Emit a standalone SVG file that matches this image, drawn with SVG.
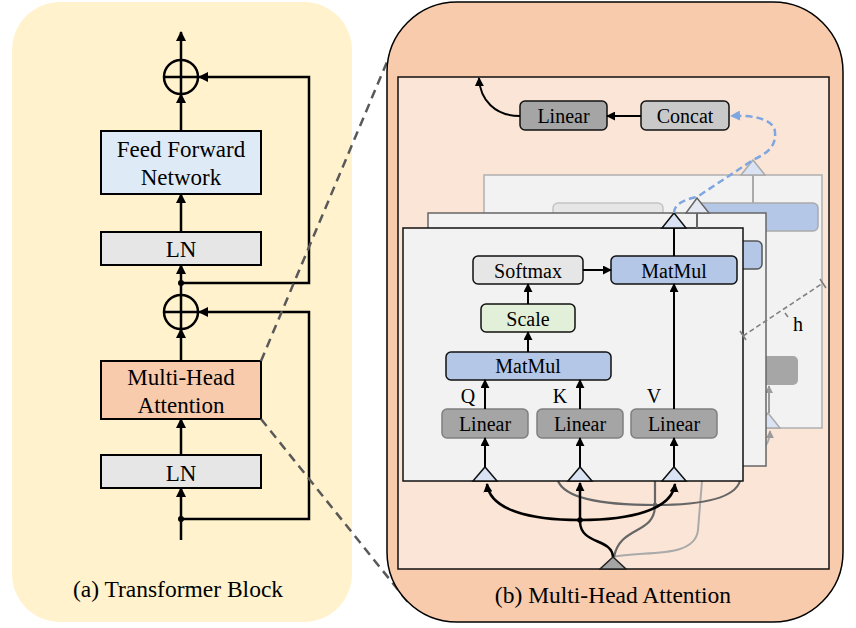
<svg xmlns="http://www.w3.org/2000/svg" width="856" height="628" viewBox="0 0 856 628">
<defs>
<style>
.t{font-family:"Liberation Serif","Times New Roman",serif;text-anchor:middle;fill:#000}
.lt{font-size:23px}
.rt{font-size:20px}
.cap{font-size:23.5px}
.bx{stroke:#000;stroke-width:2}
.rb{stroke:#111;stroke-width:1.5}
.ln{fill:none;stroke:#000;stroke-width:2.5}
.ln2{fill:none;stroke:#000;stroke-width:2}
</style>
<marker id="arr" viewBox="0 0 10 10" refX="9" refY="5" markerWidth="10" markerHeight="10" markerUnits="userSpaceOnUse" orient="auto"><path d="M0,0 L10,5 L0,10 z" fill="#000"/></marker>
<marker id="arrs" viewBox="0 0 10 10" refX="9" refY="5" markerWidth="9" markerHeight="9" markerUnits="userSpaceOnUse" orient="auto"><path d="M0,0 L10,5 L0,10 z" fill="#000"/></marker>
<marker id="arrg" viewBox="0 0 10 10" refX="9" refY="5" markerWidth="8" markerHeight="8" markerUnits="userSpaceOnUse" orient="auto"><path d="M0,0 L10,5 L0,10 z" fill="#9a9a9a"/></marker>
<marker id="arrb" viewBox="0 0 10 10" refX="9" refY="5" markerWidth="10" markerHeight="10" markerUnits="userSpaceOnUse" orient="auto"><path d="M0,0 L10,5 L0,10 z" fill="#7EA6E0"/></marker>
</defs>

<!-- (a) Transformer block panel -->
<g id="panel-a">
<rect x="12" y="2" width="340" height="620" rx="48" fill="#FFF2CC"/>
<text class="t cap" x="178" y="597">(a) Transformer Block</text>
</g>

<g id="ffn">
<rect class="bx" x="101" y="131" width="160" height="63" fill="#DEEBF7"/>
<text class="t lt" x="181" y="157">Feed Forward</text>
<text class="t lt" x="181" y="185">Network</text>
</g>
<g id="ln-top">
<rect class="bx" x="101" y="232" width="160" height="33" fill="#E6E6E6"/>
<text class="t lt" x="181" y="257">LN</text>
</g>
<g id="mha">
<rect class="bx" x="101" y="361" width="160" height="58" fill="#F8CBAD"/>
<text class="t lt" x="181" y="385">Multi-Head</text>
<text class="t lt" x="181" y="413">Attention</text>
</g>
<g id="ln-bottom">
<rect class="bx" x="101" y="455" width="160" height="33" fill="#E6E6E6"/>
<text class="t lt" x="181" y="481">LN</text>
</g>
<g id="add-top">
<circle cx="181" cy="77" r="17" fill="none" stroke="#000" stroke-width="2.5"/>
<path d="M164 77 H198 M181 60 V94" stroke="#000" stroke-width="2.5"/>
</g>
<g id="add-bottom">
<circle cx="181" cy="312" r="17" fill="none" stroke="#000" stroke-width="2.5"/>
<path d="M164 312 H198 M181 295 V329" stroke="#000" stroke-width="2.5"/>
</g>

<g id="connectors-a">
<path class="ln" d="M181 60 V32" marker-end="url(#arr)"/>
<path class="ln" d="M181 131 V94" marker-end="url(#arr)"/>
<path class="ln" d="M181 232 V194" marker-end="url(#arr)"/>
<path class="ln" d="M181 295 V265" marker-end="url(#arr)"/>
<path class="ln" d="M181 283 H309 V77 H199" marker-end="url(#arr)"/>
<path class="ln" d="M181 361 V329" marker-end="url(#arr)"/>
<path class="ln" d="M181 455 V419" marker-end="url(#arr)"/>
<path class="ln" d="M181 540 V488" marker-end="url(#arr)"/>
<path class="ln" d="M181 519 H309 V312 H199" marker-end="url(#arr)"/>
<circle cx="181" cy="283" r="3" fill="#000"/>
<circle cx="181" cy="519" r="3" fill="#000"/>
</g>

<g id="zoom-lines">
<path d="M261 361 L392 50 M261 419 L411 606" stroke="#595959" stroke-width="2.5" stroke-dasharray="9,6" fill="none"/>
</g>

<!-- (b) Multi-Head Attention panel -->
<g id="panel-b">
<rect x="387" y="2" width="456" height="620" rx="70" fill="#F8CBAD" stroke="#000" stroke-width="1.5"/>
<rect x="398" y="77" width="431" height="492" fill="#FBE5D6" stroke="#111" stroke-width="1.5"/>
<text class="t cap" x="613" y="603">(b) Multi-Head Attention</text>
</g>

<g id="connectors-back">
<path d="M613 557 C640 550 695 560 698 530 L702 481 C704 455 770 470 770 431" fill="none" stroke="#AAAAAA" stroke-width="2" marker-end="url(#arrg)"/>
</g>

<g id="head-3">
<rect x="484" y="175" width="338" height="253" fill="#F2F2F2" stroke="#B0B0B0" stroke-width="1.5"/>
<polygon points="741,175 765,175 753,160" fill="#DAE3F3" stroke="#AAAAAA" stroke-width="1.5"/>
<path d="M753 175 V203" stroke="#AAAAAA" stroke-width="2"/>
<rect x="553" y="203" width="110" height="28" rx="5" fill="#E6E6E6" stroke="#C4C4C4" stroke-width="1.5"/>
<rect x="692" y="203" width="126" height="28" rx="5" fill="#B4C7E7" stroke="#AAAAAA" stroke-width="1.5"/>
<rect x="712" y="356" width="86" height="29" rx="5" fill="#A6A6A6"/>
<polygon points="756,428 780,428 768,413" fill="#DAE3F3" stroke="#AAAAAA" stroke-width="1.5"/>
<path d="M769 413 V386" fill="none" stroke="#9a9a9a" stroke-width="2" marker-end="url(#arrg)"/>
</g>

<g id="connectors-mid">
<path d="M558 481 C565 498 600 505 655 505 C705 505 735 497 740 481" fill="none" stroke="#666666" stroke-width="2.2"/>
<path d="M655 481 V505 C655 535 620 525 614 557" fill="none" stroke="#666666" stroke-width="2.2"/>
<circle cx="655" cy="505" r="2.3" fill="#666666"/>
</g>

<g id="head-2">
<rect x="428" y="213" width="338" height="253" fill="#F2F2F2" stroke="#666666" stroke-width="1.5"/>
<polygon points="686,213 709,213 697,198" fill="#E3E8F2" stroke="#666666" stroke-width="1.5"/>
<rect x="636" y="241" width="126" height="28" rx="5" fill="#B4C7E7" stroke="#555555" stroke-width="1.5"/>
</g>

<g id="head-1">
<rect x="403" y="228" width="340" height="253" fill="#F2F2F2" stroke="#111" stroke-width="1.5"/>
<polygon points="662,228 686,228 674,213" fill="#DAE3F3" stroke="#111" stroke-width="1.5"/>
</g>
<g id="softmax">
<rect class="rb" x="473" y="256" width="110" height="28" rx="5" fill="#E7E6E6"/>
<text class="t rt" x="528" y="278">Softmax</text>
</g>
<g id="matmul-top">
<rect class="rb" x="611" y="256" width="126" height="28" rx="5" fill="#B4C7E7"/>
<text class="t rt" x="674" y="278">MatMul</text>
</g>
<g id="scale">
<rect class="rb" x="481" y="304" width="94" height="28" rx="5" fill="#E2F0D9"/>
<text class="t rt" x="528" y="326">Scale</text>
</g>
<g id="matmul-bottom">
<rect class="rb" x="446" y="352" width="165" height="28" rx="5" fill="#B4C7E7"/>
<text class="t rt" x="528" y="373">MatMul</text>
</g>
<g id="linear-q">
<rect x="442" y="409" width="86" height="29" rx="5" fill="#A5A5A5" stroke="#7F7F7F" stroke-width="1.5"/>
<text class="t rt" x="485" y="431">Linear</text>
</g>
<g id="linear-k">
<rect x="537" y="409" width="86" height="29" rx="5" fill="#A5A5A5" stroke="#7F7F7F" stroke-width="1.5"/>
<text class="t rt" x="580" y="431">Linear</text>
</g>
<g id="linear-v">
<rect x="631" y="409" width="86" height="29" rx="5" fill="#A5A5A5" stroke="#7F7F7F" stroke-width="1.5"/>
<text class="t rt" x="674" y="431">Linear</text>
</g>
<g id="labels-qkv">
<text class="t rt" x="468" y="403">Q</text>
<text class="t rt" x="560" y="403">K</text>
<text class="t rt" x="654" y="403">V</text>
</g>
<g id="inputs">
<polygon points="473,481 497,481 485,467" fill="#DAE3F3" stroke="#111" stroke-width="1.5"/>
<polygon points="568,481 592,481 580,467" fill="#DAE3F3" stroke="#111" stroke-width="1.5"/>
<polygon points="662,481 686,481 674,467" fill="#DAE3F3" stroke="#111" stroke-width="1.5"/>
</g>

<g id="linear-out">
<rect x="520" y="101" width="87" height="29" rx="5" fill="#A5A5A5" stroke="#111" stroke-width="1.5"/>
<text class="t rt" x="563.5" y="123">Linear</text>
</g>
<g id="concat">
<rect x="641" y="101" width="88" height="29" rx="5" fill="#C9C9C9" stroke="#111" stroke-width="1.5"/>
<text class="t rt" x="685" y="123">Concat</text>
</g>

<g id="connectors-b">
<path class="ln2" d="M674 228 V256"/>
<path d="M697 213 V228" stroke="#666666" stroke-width="2"/>
<path class="ln2" d="M583 270 H611" marker-end="url(#arrs)"/>
<path class="ln2" d="M528 304 V284" marker-end="url(#arrs)"/>
<path class="ln2" d="M528 352 V332" marker-end="url(#arrs)"/>
<path class="ln2" d="M485 409 V380" marker-end="url(#arrs)"/>
<path class="ln2" d="M580 409 V380" marker-end="url(#arrs)"/>
<path class="ln2" d="M674 409 V284" marker-end="url(#arrs)"/>
<path class="ln2" d="M485 467 V438" marker-end="url(#arrs)"/>
<path class="ln2" d="M580 467 V438" marker-end="url(#arrs)"/>
<path class="ln2" d="M674 467 V438" marker-end="url(#arrs)"/>
<path class="ln" d="M613 557 C612 538 581 545 580 522 L580 483" marker-end="url(#arrs)"/>
<path class="ln" d="M580 520 C530 520 490 510 487 484" marker-end="url(#arrs)"/>
<path class="ln" d="M580 520 C630 520 672 510 675 484" marker-end="url(#arrs)"/>
<circle cx="580" cy="520" r="2.8" fill="#000"/>
<path class="ln2" d="M641 116 H607" marker-end="url(#arrs)"/>
<path class="ln2" d="M520 116 C495 116 480 100 479 78" marker-end="url(#arrs)"/>
<path d="M674 213 C674 205 682 200 697 197 L753 160 C770 152 776 145 775 132 C774 118 750 115 731 116" fill="none" stroke="#7EA6E0" stroke-width="2.5" stroke-dasharray="7,4" marker-end="url(#arrb)"/>
<polygon points="600,569 626,569 613,557" fill="#A5A5A5" stroke="#222" stroke-width="1.5"/>
</g>

<g id="depth-h">
<path d="M743 336 L823 283" stroke="#808080" stroke-width="1.6" stroke-dasharray="5,3" fill="none"/>
<path d="M740 331 L746 340 M820 279 L826 288 M785 313 L788 317" stroke="#808080" stroke-width="1.6" fill="none"/>
<text class="t rt" x="798" y="331">h</text>
</g>
</svg>
